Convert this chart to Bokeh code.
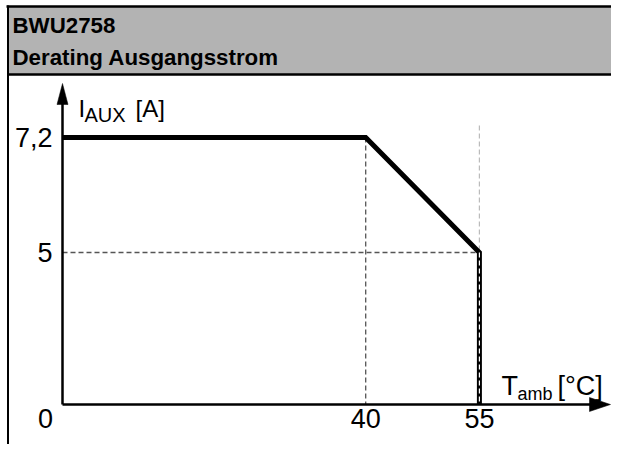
import numpy as np
from bokeh.plotting import figure
from bokeh.models import Range1d
from bokeh.core.properties import value
from bokeh.embed import file_html
from bokeh.resources import INLINE

# ---------------- data ----------------
title_lines = ["BWU2758", "Derating Ausgangsstrom"]
temperature = [0, 40, 55, 55]        # T_amb [°C]
current = [7.2, 7.2, 5, 0]           # I_AUX [A]
x_ticks = [40, 55]
x_tick_labels = ["40", "55"]
y_ticks = [7.2, 5]
y_tick_labels = ["7,2", "5"]
origin_label = ["0"]

# schematic (not-to-scale) current axis: value -> drawing units
Y_SCHEMA_VAL = [0, 5, 7.2]
Y_SCHEMA_POS = [0, 5, 8.78]


def ys(v):
    return np.interp(v, Y_SCHEMA_VAL, Y_SCHEMA_POS)


# ---------------- layout helpers ----------------
W, H = 611, 444
PAGE = 0
SX, SY = 7.58, 30.4      # px per unit
OX, OY = 62, 404         # page px of the origin


def ix(px):
    return (px - OX) / SX


def iy(py):
    return (OY - py) / SY


FONT = value("Liberation Sans")

p = figure(width=W, height=H, output_backend="svg", toolbar_location=None,
           x_range=Range1d(ix(PAGE), ix(PAGE + W)),
           y_range=Range1d(iy(PAGE + H), iy(PAGE)),
           x_axis_type=None, y_axis_type=None, min_border=0,
           outline_line_color=None, background_fill_color="white",
           border_fill_color="white")

# header box
p.quad(left=ix(8), right=ix(PAGE + W), top=iy(6), bottom=iy(74),
       fill_color="#b3b3b3", line_color=None)
p.segment(x0=ix(6), y0=iy(6), x1=ix(PAGE + W), y1=iy(6), line_color="black", line_width=2.5)
p.segment(x0=ix(8), y0=iy(74), x1=ix(PAGE + W), y1=iy(74), line_color="black", line_width=2.5)
p.segment(x0=ix(7.5), y0=iy(5), x1=ix(7.5), y1=iy(PAGE + H), line_color="black", line_width=2)
p.text(x=[ix(12), ix(12)], y=[iy(25), iy(57)], text=title_lines, text_font=FONT,
       text_font_size="22.3px", text_font_style="bold", text_align="left",
       text_baseline="alphabetic", text_color="black")

# guide lines
p.segment(x0=0, y0=ys(current[2]), x1=temperature[2], y1=ys(current[2]),
          line_color="#555555", line_width=1.3, line_dash="5 3")
p.segment(x0=temperature[1], y0=ys(current[1]), x1=temperature[1], y1=0,
          line_color="#555555", line_width=1.3, line_dash="5 3")
p.segment(x0=temperature[2], y0=iy(125), x1=temperature[2], y1=ys(current[2]),
          line_color="#bbbbbb", line_width=1.2, line_dash="5 3")

# derating curve
p.line(temperature, ys(current), line_color="black", line_width=5, line_join="miter")
p.segment(x0=temperature[3], y0=ys(current[2]), x1=temperature[3], y1=0,
          line_color="white", line_width=1.2, line_dash="5 3")

# axes with arrows
p.segment(x0=0, y0=0, x1=0, y1=iy(100), line_color="black", line_width=2.5)
p.segment(x0=0, y0=0, x1=ix(592), y1=0, line_color="black", line_width=2.5)
p.patch(x=[0 - 5.5 / SX, 0, 0 + 5.5 / SX], y=[iy(104), iy(83), iy(104)],
        fill_color="black", line_color="black", line_width=0.5)
p.patch(x=[ix(589), ix(610), ix(589)], y=[7 / SY, 0, -7 / SY],
        fill_color="black", line_color="black", line_width=0.5)

# tick labels
p.text(x=[ix(52)] * len(y_ticks), y=ys(y_ticks), text=y_tick_labels, text_font=FONT,
       text_font_size="27px", text_align="right", text_baseline="middle", text_color="black")
p.text(x=x_ticks, y=[iy(418)] * len(x_ticks), text=x_tick_labels, text_font=FONT,
       text_font_size="27px", text_align="center", text_baseline="middle", text_color="black")
p.text(x=[ix(45)], y=[iy(418)], text=origin_label, text_font=FONT,
       text_font_size="27px", text_align="center", text_baseline="middle", text_color="black")

# axis titles (with subscripts)
p.text(x=[ix(78), ix(135)], y=[iy(108), iy(108)], text=["I", "[A]"], text_font=FONT,
       text_font_size="24px", text_align="left", text_baseline="alphabetic", text_color="black")
p.text(x=[ix(84)], y=[iy(114)], text=["AUX"], text_font=FONT,
       text_font_size="20px", text_align="left", text_baseline="alphabetic", text_color="black")
p.text(x=[ix(501), ix(557)], y=[iy(385), iy(385)], text=["T", "[°C]"], text_font=FONT,
       text_font_size="27px", text_align="left", text_baseline="alphabetic", text_color="black")
p.text(x=[ix(517)], y=[iy(393)], text=["amb"], text_font=FONT,
       text_font_size="18px", text_align="left", text_baseline="alphabetic", text_color="black")

open("out.html", "w").write(file_html(p, INLINE))
